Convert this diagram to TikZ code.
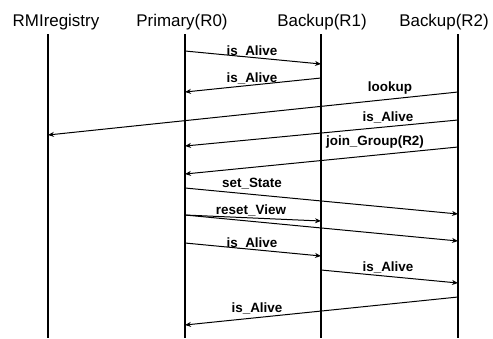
\documentclass[tikz,border=0pt]{standalone}
\usepackage{fontspec}
\setmainfont{Liberation Sans}
\usetikzlibrary{arrows.meta}

\begin{document}
\begin{tikzpicture}[x=1bp,y=-1bp,>={Stealth[length=6bp,width=5bp]},
    life/.style={line width=1.6bp},
    msg/.style={->,line width=1bp},
    head/.style={anchor=base,font=\fontsize{17}{19}\selectfont},
    lbl/.style={anchor=base,font=\bfseries\fontsize{13.5}{15}\selectfont}]
    \useasboundingbox (0,0) rectangle (493,338);
    \node[head] (rm) at (56,26) {RMIregistry};
    \node[head] (p0) at (182,26) {Primary(R0)};
    \node[head] (r1) at (322,26) {Backup(R1)};
    \node[head] (r2) at (444,26) {Backup(R2)};
    \coordinate (lrm) at (48,34);
    \coordinate (lp0) at (185,34);
    \coordinate (lr1) at (321,34);
    \coordinate (lr2) at (458,34);
    \foreach \l in {lrm,lp0,lr1,lr2}
        \draw[life] (\l) -- (\l |- 0,338);
    \draw[msg] (lp0 |- 0,51) -- (lr1 |- 0,64);
    \node[lbl] (m1) at (252,55) {is\_Alive};
    \draw[msg] (lr1 |- 0,78) -- (lp0 |- 0,92);
    \node[lbl] (m2) at (252,82) {is\_Alive};
    \draw[msg] (lr2 |- 0,92) -- (lrm |- 0,135);
    \node[lbl] (m3) at (390,91) {lookup};
    \draw[msg] (lr2 |- 0,120) -- (lp0 |- 0,146);
    \node[lbl] (m4) at (388,121) {is\_Alive};
    \draw[msg] (lr2 |- 0,147) -- (lp0 |- 0,174);
    \node[lbl] (m5) at (375,145) {join\_Group(R2)};
    \draw[msg] (lp0 |- 0,188) -- (lr2 |- 0,214);
    \node[lbl] (m6) at (252,187) {set\_State};
    \draw[msg] (lp0 |- 0,215) -- (lr1 |- 0,221);
    \draw[msg] (lp0 |- 0,215) -- (lr2 |- 0,241);
    \node[lbl] (m7) at (251,214) {reset\_View};
    \draw[msg] (lp0 |- 0,243) -- (lr1 |- 0,256);
    \node[lbl] (m8) at (252,247) {is\_Alive};
    \draw[msg] (lr1 |- 0,270) -- (lr2 |- 0,283);
    \node[lbl] (m9) at (388,271) {is\_Alive};
    \draw[msg] (lr2 |- 0,297) -- (lp0 |- 0,325);
    \node[lbl] (m10) at (257,312) {is\_Alive};
\end{tikzpicture}
\end{document}
